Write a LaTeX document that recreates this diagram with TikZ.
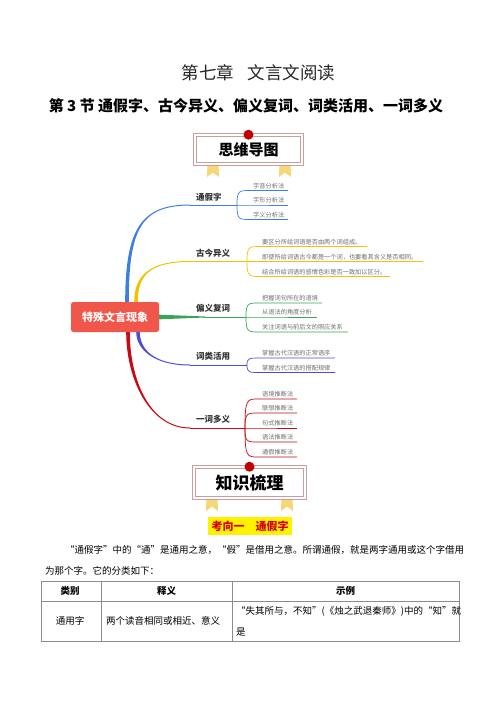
\documentclass[tikz,border=0pt]{standalone}
\usepackage{fontspec}
\setmainfont{Noto Sans CJK SC}
\usepackage{xcolor}
\usetikzlibrary{calc}

\definecolor{mmblue}{HTML}{3D7FE0}
\definecolor{mmyellow}{HTML}{F3C300}
\definecolor{mmgreen}{HTML}{3AA655}
\definecolor{mmpurple}{HTML}{4F4DD6}
\definecolor{mmred}{HTML}{C80A14}
\definecolor{rootred}{HTML}{F0574A}
\definecolor{framerose}{HTML}{C99E9E}
\definecolor{dotred}{HTML}{C00000}
\definecolor{ribbon}{HTML}{F7D774}
\definecolor{leafgray}{HTML}{6E6E6E}
\definecolor{rulegray}{HTML}{8C8C8C}
\definecolor{hiyellow}{HTML}{FFF200}
\definecolor{kred}{HTML}{D40000}

% tapered branch: colour, x0, y0, c1y, c2x, x1, y1
\newcommand{\mmbranch}[7]{%
  \pgfmathsetmacro{\sg}{sign(#7-#3)}%
  \pgfmathsetmacro{\yo}{#7+0.5*\sg}%
  \pgfmathsetmacro{\yi}{#7-0.5*\sg}%
  \fill[#1] (#2-1.8,#3) .. controls (#2-1.8,#4) and (#5,\yo) .. (#6,\yo)
    -- (#6,\yi) .. controls (#5,\yi) and (#2+1.8,#4) .. (#2+1.8,#3) -- cycle;}

\begin{document}
\begin{tikzpicture}[x=1pt, y=-1pt,
  mlabel/.style={font=\fontsize{8.5}{10}\selectfont\bfseries, text=black!80, inner sep=0pt},
  leaf/.style={font=\fontsize{6.2}{7}\selectfont, text=leafgray, inner sep=0pt},
  mainline/.style={line width=0.9pt},
  leafline/.style={line width=0.7pt},
  frame/.style={draw=framerose, double=white, double distance=2.4pt, line width=0.9pt, fill=white, inner sep=0pt},
  dot/.style={circle, fill=dotred, minimum size=10pt, inner sep=0pt},
  para/.style={font=\fontsize{9.5}{12}\selectfont, inner sep=0pt},
  head/.style={font=\fontsize{9.5}{12}\selectfont\bfseries, inner sep=0pt},
  tbl/.style={draw=rulegray, line width=0.8pt}]
  \useasboundingbox (0,0) rectangle (500,707);
  \fill[white] (0,0) rectangle (500,707);

  %--- titles ---
  \node[font=\fontsize{17.5}{20}\selectfont, text=black!85] (title) at (258.5,73) {第七章\hspace{0.75em}文言文阅读};
  \node[font=\fontsize{15}{18}\selectfont\bfseries] (subtitle) at (246,106) {第 3 节 通假字、古今异义、偏义复词、词类活用、一词多义};

  %--- banner: mind map ---
  \foreach \rx in {213,285}
    \fill[ribbon] (\rx-5.5,162) -- (\rx+5.5,162) -- (\rx+6,177) -- (\rx,172.5) -- (\rx-6,177) -- cycle;
  \node[frame, minimum width=106.7pt, minimum height=28.7pt,
    font=\fontsize{15}{18}\selectfont\bfseries] (bn1) at (248.5,149.5) {\raisebox{-2.5pt}{思维导图}};
  \node[dot] (bd1) at (bn1.north) {};

  %--- branches ---
  \mmbranch{mmblue}{127}{302}{229}{141}{190}{205}
  \mmbranch{mmyellow}{136}{302}{275}{150}{190}{261.5}
  \fill[mmgreen] (150,314.3) -- (205,316.5) -- (205,317.5) -- (150,319.7) -- cycle;
  \mmbranch{mmpurple}{138}{332}{350}{155}{190}{365}
  \mmbranch{mmred}{128}{332}{380}{150}{190}{428}

  \node[fill=rootred, rounded corners=2.5pt, minimum width=88pt, minimum height=30pt, inner sep=0pt,
    text=white, font=\fontsize{11}{13}\selectfont\bfseries] (root) at (115,317) {特殊文言现象};

  \coordinate (jTJ) at (237,205);
  \coordinate (jGJ) at (247,261.5);
  \coordinate (jPY) at (246,317);
  \coordinate (jCL) at (247,365);
  \coordinate (jYC) at (245,428);
  \draw[mmblue, mainline] (190,205) -- (jTJ);
  \draw[mmyellow, mainline] (190,261.5) -- (jGJ);
  \draw[mmgreen, mainline] (204,317) -- (jPY);
  \draw[mmpurple, mainline] (190,365) -- (jCL);
  \draw[mmred, mainline] (190,428) -- (jYC);

  \node[mlabel, anchor=base west] (lbTJ) at (196,200.5) {通假字};
  \node[mlabel, anchor=base west] (lbGJ) at (196,256.2) {古今异义};
  \node[mlabel, anchor=base west] (lbPY) at (196,311.7) {偏义复词};
  \node[mlabel, anchor=base west] (lbCL) at (196,359.7) {词类活用};
  \node[mlabel, anchor=base west] (lbYC) at (196,422.7) {一词多义};

  %--- leaves ---
  \foreach \yl/\txt [count=\i] in {190.5/字音分析法, 205/字形分析法, 219.5/字义分析法} {
    \draw[mmblue, leafline] (jTJ) .. controls (237,\yl) and (239,\yl) .. (250,\yl) -- (288,\yl);
    \node[leaf, anchor=base west] (tj\i) at (253,\yl-2.5) {\txt};
  }
  \foreach \yl/\xe/\txt [count=\i] in {246.5/367/要区分所给词语是否由两个词组成。,
      261.5/423/即使所给词语古今都是一个词，也要看其含义是否相同。,
      276.5/390/结合所给词语的感情色彩是否一致加以区分。} {
    \draw[mmyellow, leafline] (jGJ) .. controls (247,\yl) and (249,\yl) .. (260,\yl) -- (\xe,\yl);
    \node[leaf, anchor=base west] (gj\i) at (262,\yl-2.5) {\txt};
  }
  \foreach \yl/\xe/\txt [count=\i] in {303/322/把握词句所在的语境, 317/317/从语法的角度分析,
      332/348/关注词语与前后文的照应关系} {
    \draw[mmgreen, leafline] (jPY) .. controls (246,\yl) and (248,\yl) .. (259,\yl) -- (\xe,\yl);
    \node[leaf, anchor=base west] (py\i) at (262,\yl-2.5) {\txt};
  }
  \foreach \yl/\txt [count=\i] in {358/掌握古代汉语的正常语序, 372.5/掌握古代汉语的搭配规律} {
    \draw[mmpurple, leafline] (jCL) .. controls (247,\yl) and (249,\yl) .. (260,\yl) -- (335,\yl);
    \node[leaf, anchor=base west] (cl\i) at (262,\yl-2.5) {\txt};
  }
  \foreach \yl/\txt [count=\i] in {399/语境推断法, 413/联想推断法, 428/句式推断法, 442/语法推断法, 457/通假推断法} {
    \draw[mmred, leafline] (jYC) .. controls (245,\yl) and (247,\yl) .. (258,\yl) -- (297,\yl);
    \node[leaf, anchor=base west] (yc\i) at (262,\yl-2.5) {\txt};
  }

  %--- banner: knowledge ---
  \foreach \rx in {212,287}
    \fill[ribbon] (\rx-5.5,496) -- (\rx+5.5,496) -- (\rx+6,511) -- (\rx,506.5) -- (\rx-6,511) -- cycle;
  \node[frame, minimum width=110.7pt, minimum height=30.7pt,
    font=\fontsize{17}{20}\selectfont\bfseries] (bn2) at (249.5,482.5) {\raisebox{-2.5pt}{知识梳理}};
  \node[dot] (bd2) at (bn2.north) {};

  \node[fill=hiyellow, minimum width=84pt, minimum height=18pt, inner sep=0pt, text=kred,
    font=\fontsize{11}{13}\selectfont\bfseries] (kx1) at (250,526) {考向一\hspace{1em}通假字};

  %--- text ---
  \node[para, anchor=base west] (p1) at (65,553.6) {“通假字”中的“通”是通用之意，“假”是借用之意。所谓通假，就是两字通用或这个字借用};
  \node[para, anchor=base west] (p2) at (45,574.6) {为那个字。它的分类如下：};

  %--- table ---
  \draw[tbl] (41,581) rectangle (459,641);
  \draw[tbl] (41,601) -- (459,601);
  \draw[tbl] (101,581) -- (101,641);
  \draw[tbl] (232,581) -- (232,641);
  \node[head] (h1) at (70,591) {类别};
  \node[head] (h2) at (166.5,591) {释义};
  \node[head] (h3) at (345.5,591) {示例};
  \node[para] (c1) at (70,621) {通用字};
  \node[para, anchor=base west] (c2) at (106,624.6) {两个读音相同或相近、意义};
  \node[para, anchor=base west] (c3) at (236,614.6) {“失其所与，不知”(《烛之武退秦师》)中的“知”就};
  \node[para, anchor=base west] (c4) at (236,635.6) {是};
\end{tikzpicture}
\end{document}
